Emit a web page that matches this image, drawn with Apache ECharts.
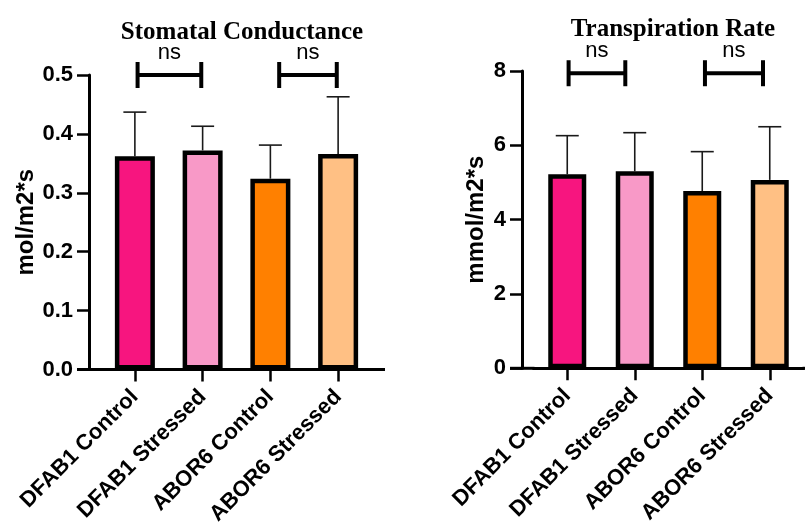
<!DOCTYPE html>
<html><head><meta charset="utf-8">
<script src="https://cdn.jsdelivr.net/npm/echarts@6/dist/echarts.min.js"></script>
<style>html,body{margin:0;padding:0;background:#fff}#c{width:805px;height:525px}</style>
</head><body><div id="c"></div>
<script>
// ---- data ----
const categories = ['DFAB1 Control', 'DFAB1 Stressed', 'ABOR6 Control', 'ABOR6 Stressed'];
const barColors = ['#F7157F', '#F899C7', '#FF8000', '#FFC084'];

const conductanceTitle = 'Stomatal Conductance';
const conductanceUnit = 'mol/m2*s';
const conductanceMean = [0.362, 0.372, 0.324, 0.366];
const conductanceSD = [0.075, 0.041, 0.057, 0.097];
const conductanceAxis = { min: 0, max: 0.5, interval: 0.1 };
// [fromCategory, toCategory, yLevel, label]
const conductanceBrackets = [[0.04, 0.98, 0.5, 'ns'], [2.13, 2.98, 0.5, 'ns']];

const transpirationTitle = 'Transpiration Rate';
const transpirationUnit = 'mmol/m2*s';
const transpirationMean = [5.22, 5.30, 4.77, 5.07];
const transpirationSD = [1.04, 1.04, 1.06, 1.43];
const transpirationAxis = { min: 0, max: 8, interval: 2 };
const transpirationBrackets = [[0.02, 0.86, 7.94, 'ns'], [2.04, 2.90, 7.94, 'ns']];

// ---- layout / style ----
const SANS = 'Arial, "Liberation Sans", Helvetica, sans-serif';
const SERIF = '"Liberation Serif", "Times New Roman", serif';
const grids = [
  { left: 101, width: 271, top: 75, height: 294.5, yOffset: 12, nameGap: 47, extRight: 13, labelFmt: v => v.toFixed(1), barWidth: 40 },
  { left: 533.5, width: 270, top: 71, height: 297.3, yOffset: 11.5, nameGap: 34, extRight: 3, labelFmt: v => String(v), barWidth: 38 }
];
const TICK = 12;

function errorItem(params, api) {
  const x = api.value(0), m = api.value(1), s = api.value(2);
  const base = api.coord([x, m]);
  const top = api.coord([x, m + s]);
  const hw = 11.5;
  const st = { stroke: '#1a1a1a', lineWidth: 1.6 };
  return { type: 'group', children: [
    { type: 'line', shape: { x1: base[0], y1: base[1], x2: top[0], y2: top[1] }, style: st },
    { type: 'line', shape: { x1: top[0] - hw, y1: top[1], x2: top[0] + hw, y2: top[1] }, style: st }
  ]};
}
function makeBracketItem(brackets) {
  return function (params, api) {
    const b = brackets[params.dataIndex];
    const band = api.size([1, 0])[0];
    const px = v => { const k = Math.floor(v); return api.coord([k, b[2]])[0] + (v - k) * band; };
    const y = api.coord([0, b[2]])[1];
    const x1 = px(b[0]), x2 = px(b[1]);
    const h = 13;
    const st = { stroke: '#000', lineWidth: 4 };
    return { type: 'group', children: [
      { type: 'line', shape: { x1: x1, y1: y, x2: x2, y2: y }, style: st },
      { type: 'line', shape: { x1: x1, y1: y - h, x2: x1, y2: y + h }, style: st },
      { type: 'line', shape: { x1: x2, y1: y - h, x2: x2, y2: y + h }, style: st },
      { type: 'text', x: (x1 + x2) / 2, y: y - 22, style: { text: b[3], font: '22px ' + SANS, fill: '#000', align: 'center', verticalAlign: 'middle' } }
    ]};
  };
}

const panels = [
  { title: conductanceTitle, unit: conductanceUnit, mean: conductanceMean, sd: conductanceSD, axis: conductanceAxis, brackets: conductanceBrackets },
  { title: transpirationTitle, unit: transpirationUnit, mean: transpirationMean, sd: transpirationSD, axis: transpirationAxis, brackets: transpirationBrackets }
];

const option = {
  backgroundColor: '#fff',
  animation: false,
  title: [
    { text: conductanceTitle, left: 237, top: 15, textAlign: 'center', textStyle: { fontFamily: SERIF, fontWeight: 'bold', fontSize: 25, color: '#000' } },
    { text: transpirationTitle, left: 668, top: 12, textAlign: 'center', textStyle: { fontFamily: SERIF, fontWeight: 'bold', fontSize: 25, color: '#000' } }
  ],
  grid: grids.map(g => ({ left: g.left, width: g.width, top: g.top, height: g.height, containLabel: false, outerBoundsMode: 'none' })),
  xAxis: grids.map((g, i) => ({
    type: 'category', gridIndex: i, data: categories,
    axisLine: { show: true, lineStyle: { color: '#000', width: 3 } },
    axisTick: { show: true, alignWithLabel: true, length: TICK, lineStyle: { color: '#000', width: 2.5 } },
    axisLabel: { rotate: 45, margin: 24, interval: 0, color: '#000', fontFamily: SANS, fontWeight: 'bold', fontSize: 22 },
    splitLine: { show: false }
  })),
  yAxis: panels.map((p, i) => ({
    type: 'value', gridIndex: i, min: p.axis.min, max: p.axis.max, interval: p.axis.interval,
    offset: grids[i].yOffset,
    name: p.unit, nameLocation: 'middle', nameRotate: 90, nameGap: grids[i].nameGap,
    nameTextStyle: { fontFamily: SANS, fontWeight: 'bold', fontSize: 24, color: '#000' },
    axisLine: { show: true, lineStyle: { color: '#000', width: 3 } },
    axisTick: { show: true, length: TICK, lineStyle: { color: '#000', width: 2.5 } },
    axisLabel: { margin: 16, color: '#000', fontFamily: SANS, fontWeight: 'bold', fontSize: 22, formatter: grids[i].labelFmt },
    splitLine: { show: false }
  })),
  series: []
};

panels.forEach((p, i) => {
  option.series.push({
    type: 'bar', xAxisIndex: i, yAxisIndex: i, barWidth: grids[i].barWidth, z: 3,
    data: p.mean.map((v, k) => ({ value: v, itemStyle: { color: barColors[k], borderColor: '#000', borderWidth: 4.5 } }))
  });
  option.series.push({
    type: 'custom', xAxisIndex: i, yAxisIndex: i, renderItem: errorItem, z: 2, clip: false,
    encode: { x: 0, y: 1 },
    data: p.mean.map((v, k) => [k, v, p.sd[k]])
  });
  option.series.push({
    type: 'custom', xAxisIndex: i, yAxisIndex: i, renderItem: makeBracketItem(p.brackets), z: 4, clip: false,
    encode: { x: 0, y: 1 },
    data: p.brackets.map(b => [Math.floor(b[0]), b[2]])
  });
});

// extend the x-axis baseline beyond the category band (GraphPad style)
option.graphic = [];
grids.forEach(g => {
  const y = g.top + g.height;
  option.graphic.push({ type: 'line', z: 5, shape: { x1: g.left - g.yOffset - TICK, y1: y, x2: g.left + 1, y2: y }, style: { stroke: '#000', lineWidth: 3 } });
  option.graphic.push({ type: 'line', z: 5, shape: { x1: g.left + g.width - 1, y1: y, x2: g.left + g.width + g.extRight, y2: y }, style: { stroke: '#000', lineWidth: 3 } });
});

const chart = echarts.init(document.getElementById('c'), null, { renderer: 'canvas' });
chart.setOption(option);
</script>
</body></html>
